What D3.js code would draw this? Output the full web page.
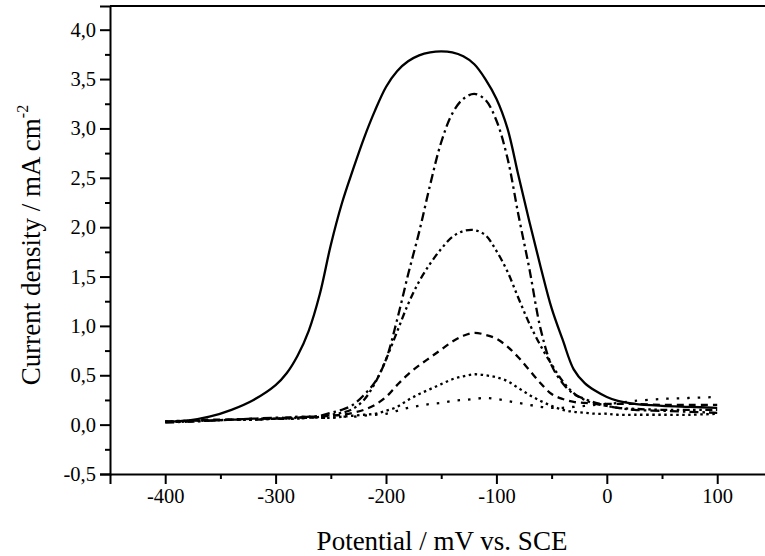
<!DOCTYPE html>
<html><head><meta charset="utf-8">
<script src="https://cdn.jsdelivr.net/npm/d3@7"></script>
<style>
html,body{margin:0;padding:0;background:#fff;}
svg{display:block;}
text{font-family:"Liberation Serif","Times New Roman",serif;fill:#000;}
</style></head>
<body>
<svg id="chart" width="765" height="556"></svg>
<script>
const potential = [-400,-380,-360,-340,-320,-300,-290,-280,-270,-260,-250,-240,-230,-220,-210,-200,-190,-180,-170,-160,-150,-140,-130,-120,-110,-100,-90,-80,-70,-60,-50,-40,-30,-20,-10,0,10,25,50,75,100];

const curveSolid = [0.03,0.04,0.08,0.15,0.25,0.40,0.52,0.70,0.95,1.32,1.82,2.24,2.58,2.90,3.18,3.42,3.58,3.68,3.74,3.77,3.78,3.77,3.73,3.65,3.50,3.30,3.00,2.52,2.05,1.60,1.18,0.86,0.56,0.42,0.34,0.28,0.24,0.21,0.19,0.18,0.17];
const curveDashDot = [0.02,0.03,0.04,0.05,0.06,0.07,0.07,0.08,0.08,0.09,0.12,0.15,0.20,0.30,0.43,0.66,1.06,1.52,1.95,2.43,2.86,3.15,3.30,3.35,3.29,3.08,2.70,2.12,1.57,0.97,0.60,0.42,0.31,0.26,0.22,0.19,0.17,0.15,0.14,0.13,0.12];
const curveDashDotDot = [0.03,0.03,0.04,0.05,0.05,0.06,0.06,0.07,0.07,0.08,0.10,0.12,0.16,0.25,0.42,0.66,0.94,1.22,1.45,1.63,1.78,1.90,1.96,1.97,1.92,1.76,1.55,1.28,1.02,0.80,0.61,0.44,0.32,0.25,0.21,0.19,0.17,0.16,0.15,0.15,0.15];
const curveDashed = [0.03,0.04,0.05,0.05,0.06,0.06,0.07,0.07,0.08,0.08,0.09,0.10,0.12,0.15,0.20,0.28,0.40,0.51,0.60,0.68,0.76,0.84,0.90,0.93,0.91,0.87,0.79,0.68,0.55,0.42,0.31,0.26,0.23,0.22,0.21,0.21,0.21,0.21,0.20,0.20,0.20];
const curveDotDense = [0.03,0.04,0.04,0.05,0.05,0.06,0.06,0.06,0.07,0.07,0.07,0.08,0.09,0.10,0.11,0.14,0.18,0.25,0.31,0.36,0.41,0.46,0.49,0.51,0.50,0.48,0.44,0.37,0.30,0.24,0.19,0.15,0.13,0.12,0.11,0.11,0.10,0.10,0.10,0.10,0.11];
const curveDotSparse = [0.03,0.04,0.04,0.05,0.05,0.06,0.06,0.06,0.07,0.07,0.07,0.08,0.08,0.09,0.10,0.11,0.14,0.17,0.19,0.21,0.22,0.24,0.25,0.26,0.27,0.26,0.24,0.22,0.20,0.18,0.17,0.17,0.18,0.19,0.20,0.21,0.22,0.24,0.26,0.27,0.28];

const seriesList = [
  {values: curveSolid, dash: null},
  {values: curveDashDot, dash: "9,4,2.5,4"},
  {values: curveDashDotDot, dash: "7,3.5,2.5,3.5,2.5,3.5"},
  {values: curveDashed, dash: "7,5"},
  {values: curveDotDense, dash: "2.5,3.5"},
  {values: curveDotSparse, dash: "2.5,8"}
];

const xMajorTicks = [-400,-300,-200,-100,0,100];
const xMinorTicks = [-350,-250,-150,-50,50];
const yMajorTicks = [-0.5,0,0.5,1,1.5,2,2.5,3,3.5,4];
const yMinorTicks = [-0.25,0.25,0.75,1.25,1.75,2.25,2.75,3.25,3.75];

const xTitle = "Potential / mV vs. SCE";
const yTitle = "Current density / mA cm";
const yTitleSup = "-2";

(function draw() {
const svg = d3.select("#chart");
const mL = 110, mT = 6, mB = 474, mR = 768;
const x = d3.scaleLinear().domain([-450, 146]).range([mL, mR]);
const y = d3.scaleLinear().domain([-0.5, 4.24]).range([mB, mT]);

const fmt = v => d3.format(".1f")(v).replace(".", ",").replace("\u2212", "-");

svg.append("line").attr("x1", mL).attr("x2", 765).attr("y1", mT).attr("y2", mT)
  .attr("stroke", "#000").attr("stroke-width", 2);

svg.append("g").attr("transform", `translate(0,${mB})`)
  .call(d3.axisBottom(x).tickValues(xMajorTicks).tickSize(10).tickPadding(4).tickFormat(d => String(d)));
svg.append("g").attr("transform", `translate(0,${mB})`)
  .call(d3.axisBottom(x).tickValues(xMinorTicks).tickSize(5).tickFormat(""))
  .call(g => g.select(".domain").remove());

svg.append("g").attr("transform", `translate(${mL},0)`)
  .call(d3.axisLeft(y).tickValues(yMajorTicks).tickSize(10).tickPadding(4).tickFormat(fmt));
svg.append("g").attr("transform", `translate(${mL},0)`)
  .call(d3.axisLeft(y).tickValues(yMinorTicks).tickSize(5).tickFormat(""))
  .call(g => g.select(".domain").remove());

svg.selectAll(".domain").attr("stroke-width", 2);
svg.selectAll(".tick line").attr("stroke-width", 2);
svg.selectAll(".tick text").attr("font-size", 20.5).attr("font-family", "Liberation Serif")
  .style("font-family", "'Liberation Serif', serif");

const line = d3.line().x((d, i) => x(potential[i])).y(d => y(d)).curve(d3.curveCatmullRom.alpha(0.5));

svg.append("clipPath").attr("id", "clip").append("rect")
  .attr("x", mL).attr("y", mT).attr("width", mR - mL).attr("height", mB - mT);

svg.append("g").attr("clip-path", "url(#clip)")
  .selectAll("path").data(seriesList).join("path")
  .attr("d", s => line(s.values))
  .attr("fill", "none").attr("stroke", "#000").attr("stroke-width", 2.3)
  .attr("stroke-dasharray", s => s.dash);

svg.append("text").attr("x", 442).attr("y", 550).attr("text-anchor", "middle")
  .attr("font-size", 27).text(xTitle);

const yt = svg.append("text").attr("transform", "translate(40,245) rotate(-90)")
  .attr("text-anchor", "middle").attr("font-size", 27);
yt.append("tspan").text(yTitle);
yt.append("tspan").attr("font-size", 16).attr("dy", -12).text(yTitleSup);
})();
</script>
</body></html>
